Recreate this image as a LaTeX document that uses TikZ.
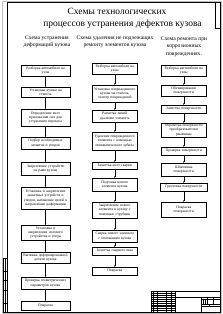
\documentclass[tikz,border=0pt]{standalone}
\usepackage{fontspec}
\setmainfont{Liberation Serif}
\usetikzlibrary{arrows.meta}
\begin{document}
\begin{tikzpicture}[x=1mm,y=-1mm,
  box/.style={draw, line width=0.6pt, align=center, inner ysep=0.8mm, inner xsep=2mm, anchor=north,
              font=\fontsize{10.5}{12.5}\selectfont},
  hdr/.style={align=center, anchor=north, font=\fontsize{16}{20}\selectfont},
  ttl/.style={anchor=base, font=\fontsize{27}{32}\selectfont},
  arr/.style={-{Stealth[length=1.8mm,width=1.2mm]}, line width=0.6pt},
  thin/.style={line width=0.35pt},
  thick/.style={line width=0.8pt}]
\useasboundingbox (0,0) rectangle (222,314);
% sheet edge and frame
\draw[gray!50, line width=0.4pt] (2.2,0.8) rectangle (221.4,313.3);
\draw[thick] (7.5,1.9) rectangle (220.1,312.1);
% top-right rotated box
\begin{scope}[shift={(220.1,1.9)}, scale=0.3737]
  \draw[thick] (-14,0) rectangle (0,70);
\end{scope}
% side column
\begin{scope}[shift={(3.0,312.1)}, scale=0.3737]
  \draw[thick] (0,0) rectangle (12,-145);
  \foreach \yy in {-25,-60,-85,-110} \draw[thick] (0,\yy) -- (12,\yy);
  \draw[thick] (5,0) -- (5,-145);
\end{scope}
% title block
\begin{scope}[shift={(151.0,291.55)}, scale=0.3737]
  \draw[thick] (0,0) rectangle (185,55);
  \foreach \xx in {7,17,40,55} \draw[thick] (\xx,0) -- (\xx,55);
  \draw[thick] (65,0) -- (65,55);
  \foreach \yy in {5,10,15,20,30,35,40,45,50} \draw[thin] (0,\yy) -- (65,\yy);
  \draw[thick] (0,25) -- (65,25);
  \draw[thick] (65,15) -- (185,15);
  \draw[thick] (135,15) -- (135,55);
  \foreach \yy in {20,35,40} \draw[thick] (135,\yy) -- (185,\yy);
  \foreach \xx in {140,145} \draw[thin] (\xx,20) -- (\xx,35);
  \foreach \xx in {150,167} \draw[thick] (\xx,15) -- (\xx,35);
  \draw[thick] (155,35) -- (155,40);
\end{scope}
% title
\node[ttl] (t1) at (117,15) {Схемы технологических};
\node[ttl] (t2) at (122.5,27) {процессов устранения дефектов кузова};
% headers
\node[hdr] (h1) at (47,34.5) {Схема устранения\\деформаций кузова};
\node[hdr] (h2) at (115,34.5) {Схема удаления не подлежащих\\ремонту элементов кузова};
\node[hdr] (h3) at (184,36) {Схема ремонта при\\коррозионных\\повреждениях.};
% column 1
\begin{scope}[every node/.append style={text width=45mm}]
\node[box, minimum height=11mm] (a1) at (45.5,65) {Разборка автомобиля на\\узлы};
\node[box, minimum height=10mm] (a2) at (45.5,87) {Установка кузова на\\стапель};
\node[box, minimum height=17mm] (a3) at (45.5,109) {Определение мест приложения сил для устранения перекоса};
\node[box, minimum height=12mm] (a4) at (45.5,137) {Подбор необходимых захватов и упоров};
\node[box, minimum height=13mm] (a5) at (45.5,162) {Закрепление устройств на раме кузова};
\node[box, minimum height=22mm] (a6) at (45.5,187) {Установка и закрепление захватных устройств и упоров, натяжение цепей в направлении деформации};
\node[box, minimum height=15mm] (a7) at (45.5,225) {Установка и закрепление силового устройства и упора};
\node[box, minimum height=11mm] (a8) at (45.5,252) {Вытяжка деформированной детали кузова};
\node[box, minimum height=12mm] (a9) at (45.5,277) {Проверка геометрических параметров кузова};
\node[box, minimum height=8.5mm] (a10) at (45.5,301) {Покраска};
\end{scope}
% column 2
\begin{scope}[every node/.append style={text width=41.5mm}]
\node[box, minimum height=11mm] (b1) at (114.75,63) {Разборка автомобиля на\\узлы};
\node[box, minimum height=17mm] (b2) at (114.75,85) {Установка поврежденного кузова на стапель, осмотр повреждений};
\node[box, minimum height=12mm] (b3) at (114.75,110) {Разметка линий удаления элемента};
\node[box, minimum height=18mm] (b4) at (114.75,132) {Удаление поврежденного элемента с помощью пневматического зубила};
\node[box, minimum height=6.5mm] (b5) at (114.75,162) {Зачистка мест сварки};
\node[box, minimum height=13mm] (b6) at (114.75,178) {Подгонка нового элемента кузова};
\node[box, minimum height=16mm] (b7) at (114.75,202) {Закрепление нового элемента к кузову с помощью струбцин};
\node[box, minimum height=12mm] (b8) at (114.75,230) {Сварка нового элемента с основанием кузова};
\node[box, minimum height=8mm] (b9) at (114.75,247) {Зачистка сварного шва};
\node[box, minimum height=8mm] (b10) at (114.75,267) {Покраска};
\end{scope}
% column 3
\begin{scope}[every node/.append style={text width=40.5mm}]
\node[box, minimum height=11mm] (c1) at (183.75,65) {Разборка автомобиля на\\узлы};
\node[box, minimum height=11mm] (c2) at (183.75,85) {Обезжиривание\\поверхности};
\node[box, minimum height=8mm] (c3) at (183.75,105) {Зачистка поверхности};
\node[box, minimum height=12mm] (c4) at (183.75,123) {Обработка поверхности преобразователем ржавчины};
\node[box, minimum height=7.5mm] (c5) at (183.75,147) {Проверка поверхности};
\node[box, minimum height=13mm] (c6) at (183.75,163) {Шпатлевка\\поверхности};
\node[box, minimum height=8mm, text width=43mm] (c7) at (183.75,183) {Грунтовка поверхности};
\node[box, minimum height=15mm] (c8) at (183.75,202) {Покраска\\поверхности};
\end{scope}
% connectors
\foreach \p/\q in {a1/a2,a2/a3,a3/a4,a4/a5,a5/a6,a6/a7,a7/a8,a8/a9,a9/a10,
                   b1/b2,b2/b3,b3/b4,b4/b5,b5/b6,b6/b7,b7/b8,b8/b9,b9/b10,
                   c1/c2,c2/c3,c3/c4,c4/c5,c5/c6,c6/c7,c7/c8}
  \draw[arr] (\p.south) -- (\q.north);
\end{tikzpicture}
\end{document}
